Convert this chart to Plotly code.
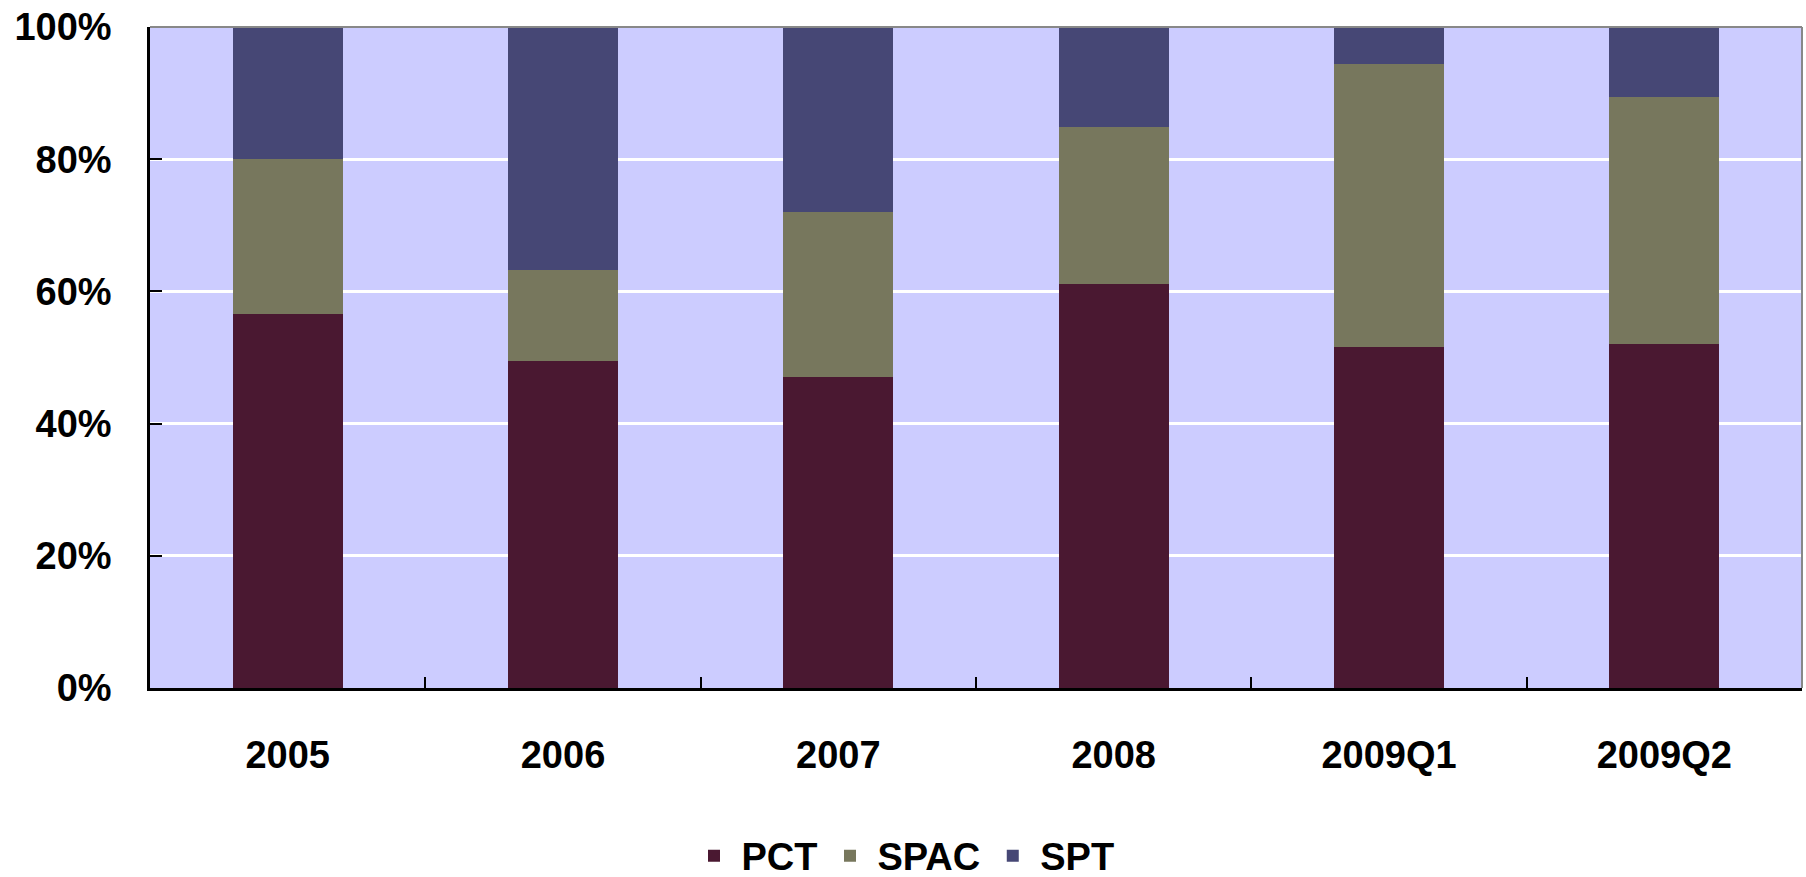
import plotly.graph_objects as go

categories = ["2005", "2006", "2007", "2008", "2009Q1", "2009Q2"]
pct = [56.6, 49.5, 47.1, 61.1, 51.6, 52.0]
spac = [23.4, 13.7, 24.9, 23.8, 42.8, 37.4]
spt = [20.0, 36.8, 28.0, 15.1, 5.6, 10.6]
y_ticks = [0, 20, 40, 60, 80, 100]
y_tick_text = [f"{v}%" for v in y_ticks]

series = [("PCT", pct, "#4A1831"), ("SPAC", spac, "#77775D"), ("SPT", spt, "#464775")]

FONT = "Liberation Sans, Arial, sans-serif"

fig = go.Figure()
for name, vals, color in series:
    fig.add_trace(go.Bar(x=categories, y=vals, name=name, marker=dict(color=color, line=dict(width=0))))

fig.update_layout(
    barmode="stack",
    bargap=0.6,
    width=1806, height=877,
    margin=dict(l=150, r=4, t=27, b=189, autoexpand=False),
    plot_bgcolor="#CCCCFF",
    paper_bgcolor="white",
    font=dict(family=FONT, size=38, color="black", weight="bold"),
    legend=dict(orientation="h", xref="container", yref="container", x=0.5, xanchor="center",
                y=0.024, yanchor="middle", font=dict(size=38, family=FONT, weight="bold"),
                itemwidth=45, traceorder="normal"),
    shapes=[
        dict(type="line", xref="paper", yref="paper", x0=0, x1=1, y0=1, y1=1, line=dict(color="#888888", width=2), layer="above"),
        dict(type="line", xref="paper", yref="paper", x0=1, x1=1, y0=0, y1=1, line=dict(color="#888888", width=2), layer="above"),
    ],
)
fig.update_xaxes(
    type="category", showgrid=False, showline=True, linecolor="black", linewidth=2.5,
    ticks="inside", tickson="boundaries", ticklen=11, tickwidth=2, tickcolor="black",
    ticklabelstandoff=32, automargin=False, tickfont=dict(size=38, family=FONT, weight="bold"),
)
fig.update_yaxes(
    range=[0, 100], tickmode="array", tickvals=y_ticks, ticktext=y_tick_text,
    showgrid=True, gridcolor="white", gridwidth=2.5,
    showline=True, linecolor="black", linewidth=2.5, ticks="inside", ticklen=12, tickwidth=2,
    tickcolor="black", ticklabelstandoff=28, zeroline=False, automargin=False,
    tickfont=dict(size=38, family=FONT, weight="bold"),
)

fig.write_html("out.html", config={"displayModeBar": False},
               post_script="document.body.style.margin='0';document.body.style.overflow='hidden';")
